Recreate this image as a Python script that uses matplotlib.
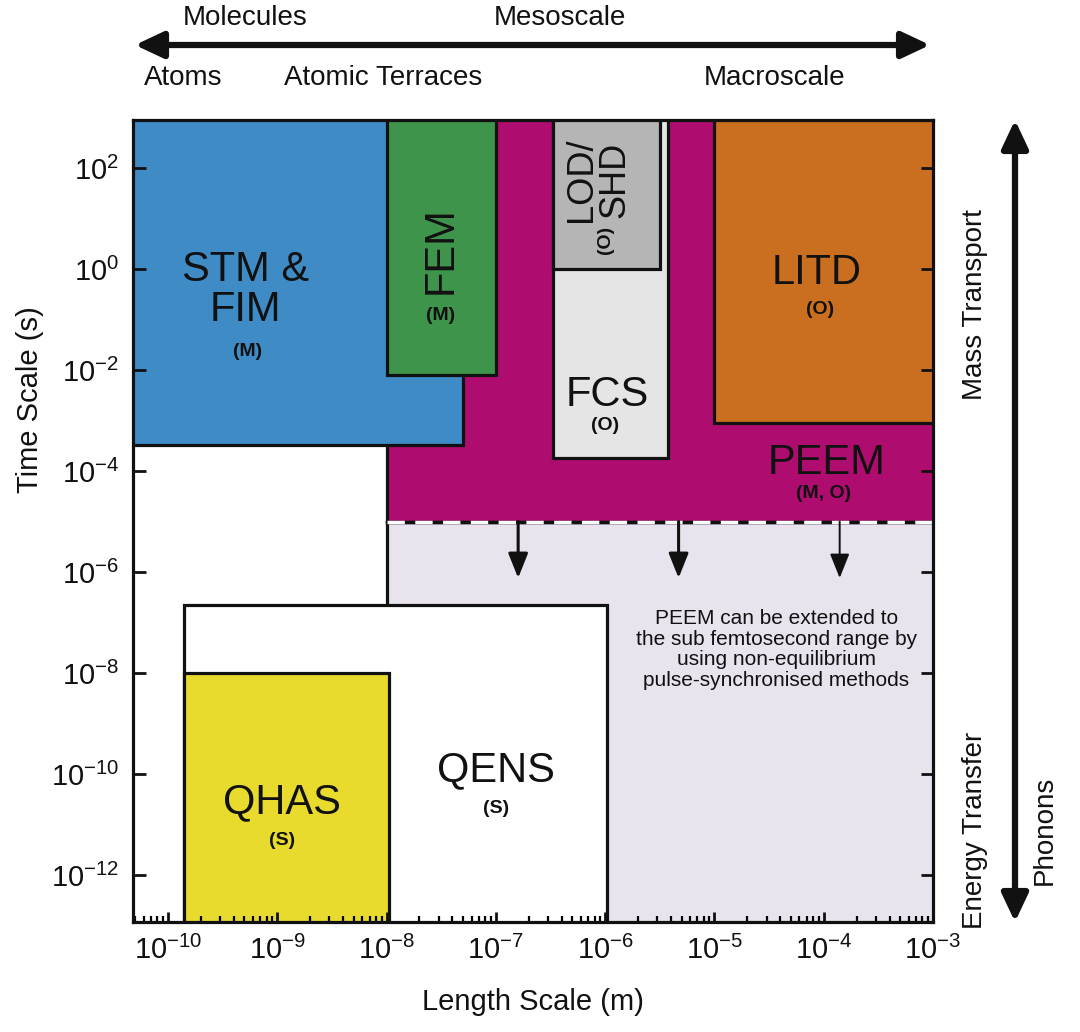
import numpy as np
import matplotlib.pyplot as plt
from matplotlib.patches import Rectangle
from matplotlib.ticker import LogLocator, NullLocator, NullFormatter, LogFormatterSciNotation

plt.rcParams['font.family'] = ['Liberation Sans', 'DejaVu Sans']
plt.rcParams['mathtext.fontset'] = 'custom'
plt.rcParams['mathtext.rm'] = 'Liberation Sans'
plt.rcParams['mathtext.default'] = 'regular'
plt.rcParams['axes.unicode_minus'] = False

# length range (m) and time range (s) covered by each technique
tech = ['PEEM ext', 'PEEM', 'STM & FIM', 'FEM', 'FCS', 'LOD/SHD', 'LITD', 'QENS', 'QHAS']
len_min = [1e-8, 1e-8, 1e-11, 1e-8, 3.3e-7, 3.3e-7, 1e-5, 1.4e-10, 1.4e-10]
len_max = [1e-2, 1e-2, 5e-8, 1e-7, 3.8e-6, 3.2e-6, 1e-2, 1.05e-6, 1.05e-8]
time_min = [1e-14, 1e-5, 3.2e-4, 8e-3, 1.8e-4, 1.0, 9e-4, 1e-14, 1e-14]
time_max = [1e-5, 1e4, 1e4, 1e4, 1e4, 1e4, 1e4, 2.2e-7, 1e-8]
colors = ['#e9e3ed', '#ae0c6e', '#3f8bc5', '#3e944a', '#e5e5e5', '#b5b5b5',
          '#c96f1f', '#ffffff', '#e8db2e']

# downward arrows from the PEEM limit
arrow_x = [1.6e-7, 4.7e-6, 1.4e-4]
arrow_lw = [2.2, 2.2, 1.4]
arrow_top = 1e-5
arrow_tip = 7.6e-7

fig = plt.figure(figsize=(10.8, 10.32), dpi=100)
ax = fig.add_axes([133/1080, 1-922/1032, 800/1080, 802/1032])
ax.set_xscale('log')
ax.set_yscale('log')
ax.set_xlim(10**-10.32, 1e-3)
ax.set_ylim(10**-12.93, 10**2.95)

for i in range(len(tech)):
    r = Rectangle((len_min[i], time_min[i]), len_max[i]-len_min[i], time_max[i]-time_min[i],
                  facecolor=colors[i], edgecolor='#111111', lw=2.3, zorder=1+i*0.01)
    ax.add_patch(r)

# dashed limit line of PEEM
ax.plot([1e-8, 1e-3], [1e-5, 1e-5], color='#111111', lw=2.5, zorder=2)
ax.plot([1e-8, 1e-3], [1e-5, 1e-5], color='white', lw=2.5, ls=(0, (5, 3)), zorder=2.1)

for x, lw in zip(arrow_x, arrow_lw):
    ax.annotate('', xy=(x, arrow_tip), xytext=(x, arrow_top),
                arrowprops=dict(arrowstyle='-|>,head_length=1.5,head_width=0.6',
                                lw=lw, color='#111111', shrinkA=0, shrinkB=0),
                zorder=3)

big = 30
small = 14
ax.text(5.1e-10, 0.38, 'STM &\nFIM', fontsize=big, ha='center', va='center', linespacing=1.0, color='#111111')
ax.text(5.3e-10, 0.023, '(M)', fontsize=small, fontweight='bold', ha='center', va='center', color='#111111')
ax.text(3.1e-8, 2.4, 'FEM', fontsize=big, rotation=90, ha='center', va='center', color='#111111')
ax.text(3.1e-8, 0.12, '(M)', fontsize=small, fontweight='bold', ha='center', va='center', color='#111111')
ax.text(8.7e-7, 58, 'LOD/\nSHD', fontsize=26, rotation=90, ha='center', va='center', linespacing=0.95, color='#111111')
ax.text(1.0e-6, 3.7, '(O)', fontsize=small, fontweight='bold', rotation=90, ha='center', va='center', color='#111111')
ax.text(1.05e-6, 3.2e-3, 'FCS', fontsize=big, ha='center', va='center', color='#111111')
ax.text(1.0e-6, 8e-4, '(O)', fontsize=small, fontweight='bold', ha='center', va='center', color='#111111')
ax.text(8.7e-5, 0.83, 'LITD', fontsize=big, ha='center', va='center', color='#111111')
ax.text(9.2e-5, 0.155, '(O)', fontsize=small, fontweight='bold', ha='center', va='center', color='#111111')
ax.text(1.07e-4, 1.45e-4, 'PEEM', fontsize=big, ha='center', va='center', color='#111111')
ax.text(1.0e-4, 3.6e-5, '(M, O)', fontsize=small, fontweight='bold', ha='center', va='center', color='#111111')
ax.text(1.1e-9, 2.8e-11, 'QHAS', fontsize=big, ha='center', va='center', color='#111111')
ax.text(1.1e-9, 4.9e-12, '(S)', fontsize=small, fontweight='bold', ha='center', va='center', color='#111111')
ax.text(1e-7, 1.2e-10, 'QENS', fontsize=big, ha='center', va='center', color='#111111')
ax.text(1e-7, 2.1e-11, '(S)', fontsize=small, fontweight='bold', ha='center', va='center', color='#111111')
ax.text(3.7e-5, 2.9e-8, 'PEEM can be extended to\nthe sub femtosecond range by\nusing non-equilibrium\npulse-synchronised methods',
        fontsize=15, ha='center', va='center', linespacing=1.1, color='#111111', zorder=4)

# axes and ticks
ax.xaxis.set_major_locator(LogLocator(base=10, numticks=20))
ax.xaxis.set_minor_locator(LogLocator(base=10, subs=np.arange(2, 10), numticks=20))
ax.xaxis.set_minor_formatter(NullFormatter())
ax.yaxis.set_major_locator(LogLocator(base=100, numticks=20))
ax.yaxis.set_minor_locator(NullLocator())
ax.xaxis.set_major_formatter(LogFormatterSciNotation())
ax.yaxis.set_major_formatter(LogFormatterSciNotation())
ax.tick_params(axis='both', which='major', direction='in', labelsize=21, width=2, length=7,
               colors='#111111', pad=10)
ax.tick_params(axis='y', which='major', right=True, length=9)
ax.tick_params(axis='x', which='minor', direction='in', width=1.6, length=4, top=False)
ax.tick_params(axis='x', which='major', top=False)
for s in ax.spines.values():
    s.set_linewidth(2.3)
    s.set_color('#111111')
    s.set_zorder(5)

fig.text(533/1080, 1-1002/1032, 'Length Scale (m)', fontsize=21, ha='center', va='center', color='#111111')
fig.text(30/1080, 1-400/1032, 'Time Scale (s)', fontsize=21, rotation=90, ha='center', va='center', color='#111111')

# length scale arrow on top
fig.text(245/1080, 1-18/1032, 'Molecules', fontsize=20, ha='center', va='center', color='#111111')
fig.text(560/1080, 1-18/1032, 'Mesoscale', fontsize=20, ha='center', va='center', color='#111111')
fig.text(183/1080, 1-78/1032, 'Atoms', fontsize=20, ha='center', va='center', color='#111111')
fig.text(383/1080, 1-78/1032, 'Atomic Terraces', fontsize=20, ha='center', va='center', color='#111111')
fig.text(775/1080, 1-78/1032, 'Macroscale', fontsize=20, ha='center', va='center', color='#111111')
ax.annotate('', xy=(135/1080, 1-45/1032), xytext=(930/1080, 1-45/1032),
            xycoords='figure fraction', textcoords='figure fraction',
            arrowprops=dict(arrowstyle='<|-|>,head_length=1.7,head_width=0.8', lw=4.5,
                            color='#111111', shrinkA=0, shrinkB=0))

# time scale arrow on the right
ax.annotate('', xy=(1015/1080, 1-120/1032), xytext=(1015/1080, 1-922/1032),
            xycoords='figure fraction', textcoords='figure fraction',
            arrowprops=dict(arrowstyle='<|-|>,head_length=1.7,head_width=0.8', lw=4.5,
                            color='#111111', shrinkA=0, shrinkB=0))
fig.text(975/1080, 1-305/1032, 'Mass Transport', fontsize=20, rotation=90, ha='center', va='center', color='#111111')
fig.text(975/1080, 1-830/1032, 'Energy Transfer', fontsize=20, rotation=90, ha='center', va='center', color='#111111')
fig.text(1045/1080, 1-830/1032, 'Phonons', fontsize=20, rotation=90, ha='center', va='center', color='#111111')

fig.savefig('out.png', dpi=100, facecolor='white')
